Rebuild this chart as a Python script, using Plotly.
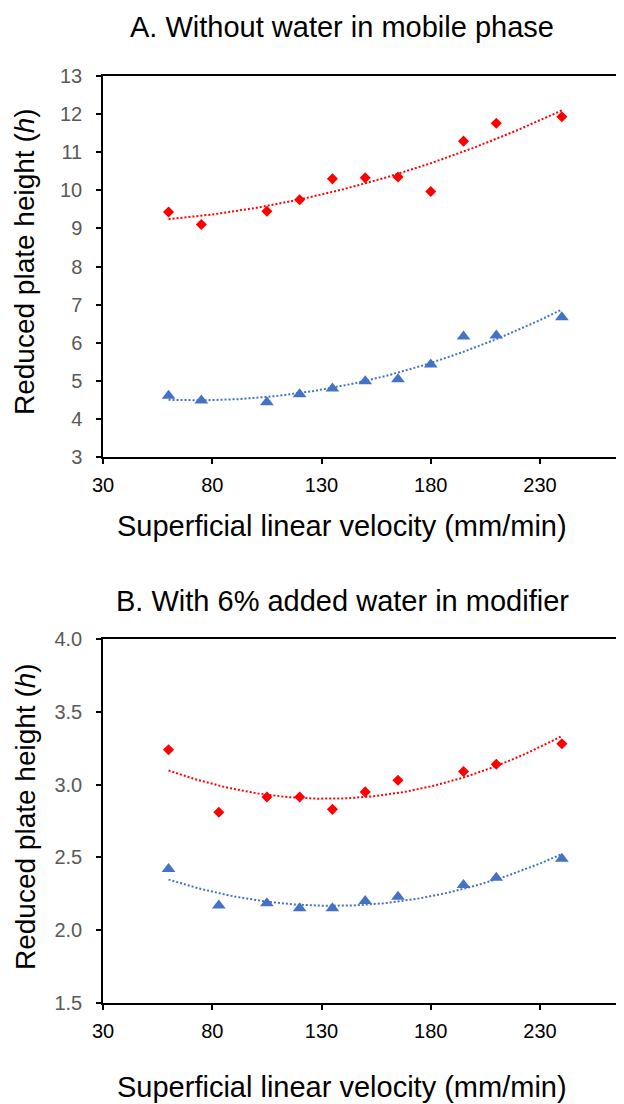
import numpy as np
import plotly.graph_objects as go

# ---------------- data ----------------
# Panel A: without water in mobile phase
a_vel = [60, 75, 105, 120, 135, 150, 165, 180, 195, 210, 240]
a_red_h = [9.43, 9.10, 9.45, 9.75, 10.30, 10.33, 10.35, 9.97, 11.29, 11.76, 11.93]
a_blue_h = [4.61, 4.48, 4.44, 4.65, 4.80, 4.99, 5.04, 5.43, 6.16, 6.19, 6.67]

# Panel B: with 6% added water in modifier
b_vel = [60, 83, 105, 120, 135, 150, 165, 195, 210, 240]
b_red_h = [3.24, 2.81, 2.915, 2.915, 2.83, 2.95, 3.03, 3.09, 3.14, 3.28]
b_blue_h = [2.42, 2.17, 2.185, 2.15, 2.15, 2.20, 2.23, 2.31, 2.36, 2.49]

a_yticks = list(range(3, 14))
b_yticks = [1.5, 2.0, 2.5, 3.0, 3.5, 4.0]
x_ticks = [30, 80, 130, 180, 230]

title_a = "A. Without water in mobile phase"
title_b = "B. With 6% added water in modifier"
x_title = "Superficial linear velocity (mm/min)"
y_title = "Reduced plate height (<i>h</i>)"

RED = "#FF0000"
BLUE = "#4472C4"
FONT = "Liberation Sans, Arial, sans-serif"
PAGE_W, PAGE_H = 624, 1104
OFF = 8  # default page margin around the figure
W, H = PAGE_W - OFF, PAGE_H - OFF


def px_x(p):
    return (p - OFF) / W


def px_y(p):
    return 1 - (p - OFF) / H


def trend(x, y):
    c = np.polyfit(x, y, 2)
    xs = np.linspace(min(x), max(x), 120)
    return xs, np.polyval(c, xs)


fig = go.Figure()

panels = [
    ("x", "y", a_vel, a_red_h, a_blue_h),
    ("x2", "y2", b_vel, b_red_h, b_blue_h),
]
for xa, ya, vel, red, blue in panels:
    fig.add_trace(go.Scatter(x=vel, y=red, mode="markers", xaxis=xa, yaxis=ya,
                             marker=dict(symbol="diamond", size=8.5, color=RED),
                             showlegend=False))
    fig.add_trace(go.Scatter(x=vel, y=blue, mode="markers", xaxis=xa, yaxis=ya,
                             marker=dict(symbol="triangle-up", size=12, color=BLUE),
                             showlegend=False))
    xs, ys = trend(vel, red)
    fig.add_trace(go.Scatter(x=xs, y=ys, mode="lines", xaxis=xa, yaxis=ya,
                             line=dict(color=RED, width=2, dash="2px,2px"),
                             showlegend=False, hoverinfo="skip"))
    xs, ys = trend(vel, blue)
    fig.add_trace(go.Scatter(x=xs, y=ys, mode="lines", xaxis=xa, yaxis=ya,
                             line=dict(color=BLUE, width=2, dash="2px,2px"),
                             showlegend=False, hoverinfo="skip"))

x_left = 103
x_right_val = 30 + (PAGE_W - x_left) / 2.185

common_x = dict(
    range=[30, x_right_val], tickvals=x_ticks, showline=True, linecolor="#000000",
    linewidth=1.5, mirror=True, ticks="outside", ticklen=5, tickcolor="#000000",
    tickwidth=1.5, showgrid=False, zeroline=False, automargin=False,
    tickfont=dict(family=FONT, size=20, color="#000000"),
    domain=[px_x(x_left), 1.0], ticklabelstandoff=4,
)
common_y = dict(
    showline=True, linecolor="#000000", linewidth=1.5, ticks="outside", ticklen=5,
    tickcolor="#000000", tickwidth=1.5, showgrid=False, zeroline=False,
    automargin=False,
    tickfont=dict(family=FONT, size=20, color="#595959"), ticklabelstandoff=10,
)

fig.update_layout(
    width=W, height=H,
    margin=dict(l=0, r=0, t=0, b=0, pad=0),
    paper_bgcolor="white", plot_bgcolor="white",
    xaxis=dict(common_x, anchor="y"),
    yaxis=dict(common_y, range=[3, 13], tickvals=a_yticks, anchor="x",
               domain=[px_y(457), px_y(76)]),
    xaxis2=dict(common_x, anchor="y2"),
    yaxis2=dict(common_y, range=[1.5, 4.0], tickvals=b_yticks, tickformat=".1f",
                anchor="x2", domain=[px_y(1003), px_y(639)]),
)

def ann(text, x, y, angle=0, size=29):
    fig.add_annotation(text=text, x=px_x(x), y=px_y(y), xref="paper", yref="paper",
                       xanchor="center", yanchor="middle", showarrow=False,
                       textangle=angle, font=dict(family=FONT, size=size, color="#000000"))

ann(title_a, 342, 27)
ann(title_b, 342, 600.5)
ann(x_title, 342, 525.5)
ann(x_title, 342, 1087)
ann(y_title, 25, 262, -90, 28)
ann(y_title, 25, 817, -90, 28)

fig.write_html("out.html")
